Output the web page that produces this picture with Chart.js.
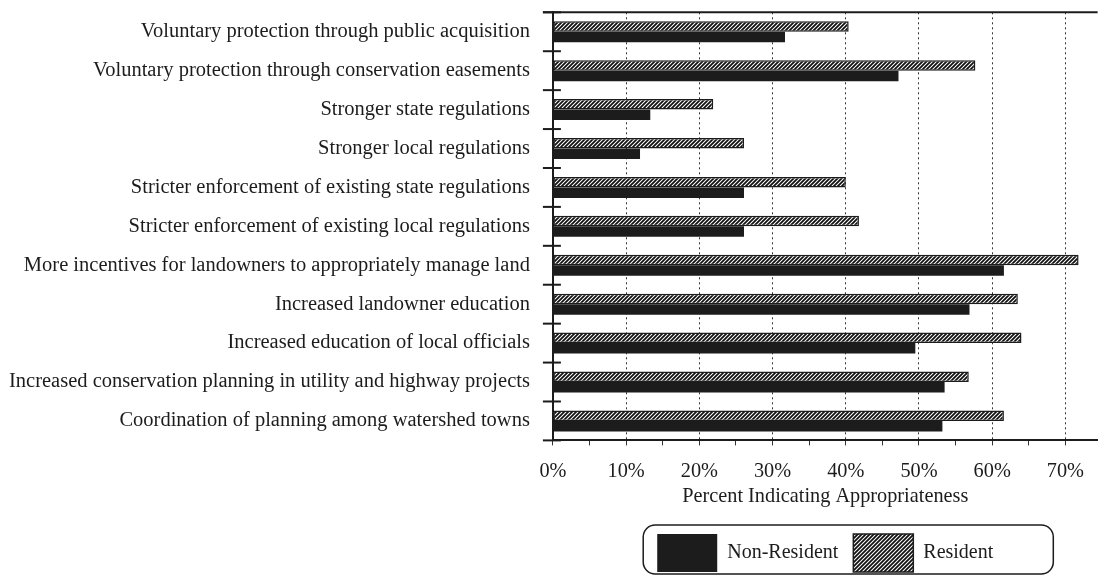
<!DOCTYPE html>
<html>
<head>
<meta charset="utf-8">
<script src="https://cdn.jsdelivr.net/npm/chart.js@4.4.0/dist/chart.umd.min.js"></script>
<style>
  html, body { margin: 0; padding: 0; background: #fff; }
  #wrap { width: 1100px; height: 582px; }
</style>
</head>
<body>
<div id="wrap"><canvas id="myChart"></canvas></div>
<script>
// data (percent)
const categories = [
  "Voluntary protection through public acquisition",
  "Voluntary protection through conservation easements",
  "Stronger state regulations",
  "Stronger local regulations",
  "Stricter enforcement of existing state regulations",
  "Stricter enforcement of existing local regulations",
  "More incentives for landowners to appropriately manage land",
  "Increased landowner education",
  "Increased education of local officials",
  "Increased conservation planning in utility and highway projects",
  "Coordination of planning among watershed towns"
];
const residentValues    = [40.4, 57.7, 21.9, 26.1, 40.0, 41.8, 71.8, 63.5, 64.0, 56.8, 61.6];
const nonResidentValues = [31.7, 47.2, 13.3, 11.9, 26.1, 26.1, 61.6, 56.9, 49.5, 53.5, 53.2];
const xTickLabels = ["0%", "10%", "20%", "30%", "40%", "50%", "60%", "70%"];
const xTitle = "Percent Indicating Appropriateness";

const FONT = "'Liberation Serif', 'Times New Roman', serif";
const INK = "#1c1c1c";

// diagonal hatch fill for the resident bars
function makeHatch() {
  const c = document.createElement("canvas");
  c.width = 4; c.height = 4;
  const g = c.getContext("2d");
  g.fillStyle = "#fff";
  g.fillRect(0, 0, 4, 4);
  g.strokeStyle = "#111";
  g.lineWidth = 1.8;
  g.beginPath();
  g.moveTo(0, 4); g.lineTo(4, 0);
  g.moveTo(-1, 1); g.lineTo(1, -1);
  g.moveTo(3, 5); g.lineTo(5, 3);
  g.stroke();
  return g.createPattern(c, "repeat");
}

// top frame line, category boundary ticks and the rounded legend box
const framePlugin = {
  id: "frame",
  afterDraw(chart) {
    const { ctx, chartArea } = chart;
    const y = chart.scales.y;
    ctx.save();
    ctx.strokeStyle = INK;
    ctx.lineWidth = 2;
    ctx.beginPath();
    ctx.moveTo(chartArea.left - 10, chartArea.top);
    ctx.lineTo(chartArea.right, chartArea.top);
    ctx.stroke();
    const half = (y.getPixelForValue(1) - y.getPixelForValue(0)) / 2;
    for (let i = 0; i <= categories.length; i++) {
      const py = y.getPixelForValue(i) - half;
      ctx.beginPath();
      ctx.moveTo(chartArea.left - 10, py);
      ctx.lineTo(chartArea.left + 8, py);
      ctx.stroke();
    }
    const hb = chart.legend.legendHitBoxes;
    if (hb && hb.length) {
      const left = Math.min(...hb.map(h => h.left)) - 14;
      const right = Math.max(...hb.map(h => h.left + h.width)) + 60;
      const top = hb[0].top - 9;
      const bottom = hb[0].top + hb[0].height + 2;
      ctx.lineWidth = 1.5;
      ctx.beginPath();
      ctx.roundRect(left, top, right - left, bottom - top, 12);
      ctx.stroke();
    }
    ctx.restore();
  }
};

const ctx = document.getElementById("myChart");
const myChart = new Chart(ctx, {
  type: "bar",
  data: {
    labels: categories,
    datasets: [
      {
        label: "Resident",
        data: residentValues,
        backgroundColor: makeHatch(),
        borderColor: INK,
        borderWidth: 1.5,
        borderSkipped: false
      },
      {
        label: "Non-Resident",
        data: nonResidentValues,
        backgroundColor: INK,
        borderColor: INK,
        borderWidth: 0
      }
    ]
  },
  options: {
    indexAxis: "y",
    responsive: true,
    maintainAspectRatio: false,
    animation: false,
    categoryPercentage: 0.54,
    barPercentage: 1.0,
    layout: { padding: { top: 0, left: 9, right: 0, bottom: 0 } },
    scales: {
      x: {
        min: 0,
        max: 74.4,
        border: { display: true, color: INK, width: 2, dash: [2, 3] },
        grid: {
          color: c => (c.tick && c.tick.value % 10 === 0) ? "#333" : "rgba(0,0,0,0)",
          tickColor: "#333",
          tickLength: 5,
          lineWidth: 1
        },
        ticks: {
          stepSize: 5,
          includeBounds: false,
          autoSkip: false,
          maxRotation: 0,
          padding: 16,
          color: INK,
          font: { family: FONT, size: 20.3, lineHeight: 1.0 },
          callback: v => (v % 10 === 0) ? xTickLabels[v / 10] : ""
        },
        title: {
          display: true,
          text: xTitle,
          color: INK,
          font: { family: FONT, size: 20.3, lineHeight: 1.0 },
          padding: { top: -11, bottom: 12 }
        }
      },
      y: {
        border: { display: true, color: INK, width: 2 },
        grid: {
          offset: true,
          drawOnChartArea: false,
          tickColor: "rgba(0,0,0,0)",
          tickLength: 23
        },
        ticks: {
          padding: 0,
          color: INK,
          font: { family: FONT, size: 20.5 }
        }
      }
    },
    plugins: {
      legend: {
        position: "bottom",
        fullSize: false,
        reverse: true,
        labels: {
          boxWidth: 60,
          boxHeight: 38,
          padding: 15,
          color: INK,
          font: { family: FONT, size: 20 }
        }
      },
      tooltip: { enabled: false }
    }
  },
  plugins: [framePlugin]
});
</script>
</body>
</html>
